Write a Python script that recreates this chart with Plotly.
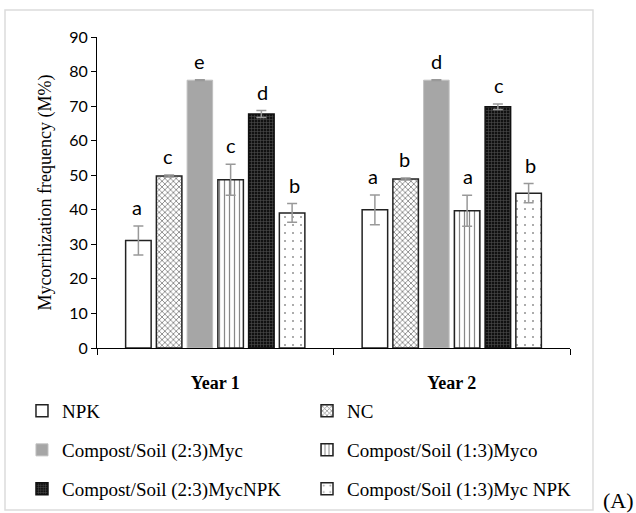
import plotly.graph_objects as go

years = ["Year 1", "Year 2"]
treatments = ["NPK", "NC", "Compost/Soil (2:3)Myc", "Compost/Soil (1:3)Myco",
              "Compost/Soil (2:3)MycNPK", "Compost/Soil (1:3)Myc NPK"]
values = {
    "NPK": [31.1, 40.0],
    "NC": [49.8, 48.9],
    "Compost/Soil (2:3)Myc": [77.5, 77.5],
    "Compost/Soil (1:3)Myco": [48.7, 39.7],
    "Compost/Soil (2:3)MycNPK": [67.7, 69.8],
    "Compost/Soil (1:3)Myc NPK": [39.1, 44.8],
}
errors = {
    "NPK": [4.2, 4.3],
    "NC": [0.3, 0.3],
    "Compost/Soil (2:3)Myc": [0.1, 0.1],
    "Compost/Soil (1:3)Myco": [4.5, 4.5],
    "Compost/Soil (2:3)MycNPK": [1.0, 0.8],
    "Compost/Soil (1:3)Myc NPK": [2.7, 2.8],
}
letters = {
    "NPK": ["a", "a"],
    "NC": ["c", "b"],
    "Compost/Soil (2:3)Myc": ["e", "d"],
    "Compost/Soil (1:3)Myco": ["c", "a"],
    "Compost/Soil (2:3)MycNPK": ["d", "c"],
    "Compost/Soil (1:3)Myc NPK": ["b", "b"],
}

styles = {
    "NPK": dict(color="white", pattern=dict(shape=""), line=dict(color="#222", width=1.5)),
    "NC": dict(color="white", pattern=dict(shape="x", fgcolor="#111", bgcolor="white", size=4, solidity=0.4),
               line=dict(color="#222", width=1.5)),
    "Compost/Soil (2:3)Myc": dict(color="#a6a6a6", pattern=dict(shape=""), line=dict(color="#bfbfbf", width=1)),
    "Compost/Soil (1:3)Myco": dict(color="white", pattern=dict(shape="|", fgcolor="#111", bgcolor="white", size=5, solidity=0.25),
                                   line=dict(color="#222", width=1.5)),
    "Compost/Soil (2:3)MycNPK": dict(color="#1a1a1a", pattern=dict(shape="+", fgcolor="#8a8a8a", bgcolor="#111", size=3, solidity=0.35),
                                     line=dict(color="#111", width=1.5)),
    "Compost/Soil (1:3)Myc NPK": dict(color="white", pattern=dict(shape=".", fgcolor="#222", bgcolor="white", size=8, solidity=0.05),
                                      line=dict(color="#222", width=1.5)),
}
legend_ids = ["legend", "legend2", "legend3", "legend4", "legend5", "legend6"]

fig = go.Figure()
for t, lg in zip(treatments, legend_ids):
    fig.add_trace(go.Bar(
        x=years, y=values[t], name=t, legend=lg,
        marker=styles[t],
        error_y=dict(type="data", array=errors[t], visible=True, color="#999999", thickness=1.5, width=5),
    ))

# significance letters
step_px = 31.5
for i, t in enumerate(treatments):
    for j, yr in enumerate(years):
        fig.add_annotation(
            x=yr, y=values[t][j] + errors[t][j], text=letters[t][j],
            showarrow=False, xref="x", yref="y", yanchor="bottom",
            xshift=(i - 2.5) * step_px, yshift=5,
            font=dict(family="Lato, Open Sans, sans-serif", size=20, color="black"),
        )

fig.add_annotation(x=1.0, y=-0.489, xref="paper", yref="paper", text="(A)", showarrow=False,
                   xanchor="center", yanchor="middle", xshift=48,
                   font=dict(family="Liberation Serif, Times New Roman, serif", size=22, color="black"))

fig.add_shape(type="rect", xref="paper", yref="paper", x0=-0.1945, x1=1.0486, y0=-0.521, y1=1.087,
              line=dict(color="#dcdcdc", width=1.5), fillcolor="rgba(0,0,0,0)", layer="below")

leg_common = dict(orientation="h", xanchor="left", yanchor="middle",
                  font=dict(family="Liberation Serif, Times New Roman, serif", size=19, color="black"),
                  itemwidth=30, bgcolor="rgba(0,0,0,0)")
px_per_y = 311.0
def ly(pix):
    return (348 - pix) / px_per_y
col_x = [-0.1586, 0.444]
row_y = [ly(411), ly(450), ly(489)]
legends = {}
for k, lg in enumerate(legend_ids):
    legends[lg] = dict(x=col_x[k % 2], y=row_y[k // 2], **leg_common)

fig.update_layout(
    width=636, height=513,
    margin=dict(l=97, r=66, t=37, b=165, autoexpand=False),
    paper_bgcolor="white", plot_bgcolor="white",
    barmode="group", bargap=0.22, bargroupgap=0.17,
    showlegend=True,
    xaxis=dict(showline=True, linecolor="black", linewidth=1, ticks="outside", tickson="boundaries",
               ticklen=6, tickcolor="black", ticklabelstandoff=18,
               tickfont=dict(family="Liberation Serif, Times New Roman, serif", size=18, color="black"),
               tickprefix="<b>", ticksuffix="</b>", showgrid=False),
    yaxis=dict(range=[0, 90], dtick=10, showline=True, linecolor="black", linewidth=1, ticks="outside",
               ticklen=5, tickcolor="black", showgrid=False, zeroline=False,
               tickfont=dict(family="Lato, Open Sans, sans-serif", size=16, color="black"),
               title=dict(text="Mycorrhization frequency (M%)", standoff=12,
                          font=dict(family="Liberation Serif, Times New Roman, serif", size=18, color="black"))),
    **legends,
)

fig.write_html("out.html", config={"displayModeBar": False},
               post_script="document.body.style.margin='0';")
